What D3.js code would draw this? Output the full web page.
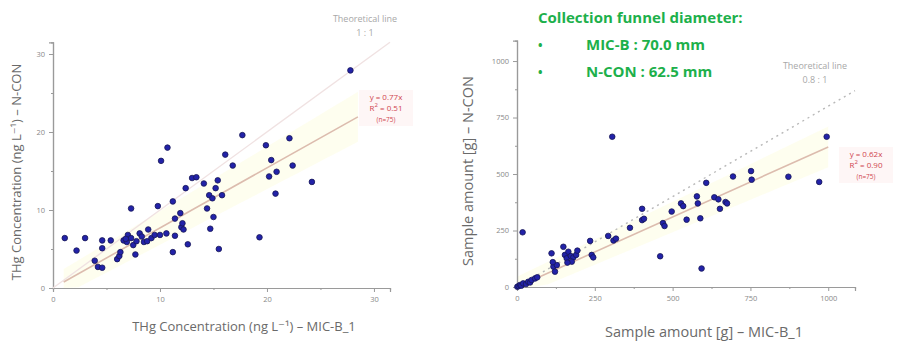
<!DOCTYPE html>
<html>
<head>
<meta charset="utf-8">
<script src="https://cdn.jsdelivr.net/npm/d3@7"></script>
<style>
  html, body { margin: 0; padding: 0; background: #fff; }
  svg { display: block; }
</style>
</head>
<body>
<svg id="chart" width="897" height="343"></svg>
<script>
// THg concentration, ng/L: MIC-B_1 (x) vs N-CON (y)
const thgMicB = [1.1,2.2,3.0,3.9,4.2,4.6,4.6,4.6,5.4,6.0,6.2,6.3,6.6,6.9,7.0,7.3,7.3,7.5,7.7,8.1,8.5,8.8,8.9,9.2,9.5,9.8,10.6,11.2,11.2,11.4,11.4,11.9,12.0,12.2,12.4,12.6,13.0,13.4,14.1,14.4,14.6,14.7,14.9,15.0,15.2,15.4,15.5,15.8,19.3,20.2,20.8,20.9,24.2,27.8,17.7,22.1,19.9,10.7,10.1,16.1,16.8,20.4,22.4,6.8,7.8,8.3,10.0,12.1];
const thgNCon = [6.4,4.8,6.4,3.5,2.7,2.6,6.1,5.1,6.1,3.7,4.1,4.6,6.1,5.9,6.8,6.4,10.2,5.5,4.3,7.0,5.9,6.0,7.5,6.4,6.8,10.5,7.0,11.1,4.6,8.9,6.7,9.6,7.8,7.5,12.8,5.6,14.1,14.2,13.4,10.2,11.9,7.6,11.5,9.1,12.8,13.8,5.0,11.9,6.5,14.3,12.1,14.9,13.6,27.9,19.6,19.2,18.3,18.0,16.3,17.1,15.7,16.4,15.7,6.3,6.0,6.6,6.8,8.3];

// Sample amount, g: MIC-B_1 (x) vs N-CON (y)
const amtMicB = [1,5,10,14,20,29,36,42,47,58,65,18,111,117,122,128,115,149,154,160,165,173,181,190,194,176,162,235,240,245,293,310,318,363,402,402,408,460,469,474,497,527,534,545,578,581,589,593,608,634,647,652,670,675,694,752,754,872,971,306,995];
const amtNCon = [1,4,9,6,16,13,23,20,31,38,43,242,149,90,68,97,110,178,142,127,156,137,131,142,161,112,108,204,142,131,226,206,214,262,346,296,302,136,283,270,334,370,358,298,401,370,304,82,461,397,388,346,376,370,489,513,475,488,465,665,665];

// Axis ticks
const thgTicks = [0, 10, 20, 30];
const thgMinor = [5, 15, 25];
const amtTicks = [0, 250, 500, 750, 1000];
const amtMinor = [125, 375, 625, 875];

// Fitted slopes and theoretical ratios
const thgSlope = 0.77, thgR2 = "0.51";
const amtSlope = 0.62, amtR2 = "0.90";
const thgTheory = 1.0, amtTheory = 0.8;
const sampleCount = 75;

const svg = d3.select("#chart");
const FONT = "'Open Sans', 'DejaVu Sans', sans-serif";
const AXIS = "#9a9a9a";
const LABEL = "#6a6a6a";

function panel(cfg) {
  const g = svg.append("g");
  const x = d3.scaleLinear().domain(cfg.xDomain).range(cfg.xRange);
  const y = d3.scaleLinear().domain(cfg.yDomain).range(cfg.yRange);

  // faint yellow band along the fit
  const band = cfg.bandHalf;
  const xs = d3.range(cfg.fitFrom, cfg.fitTo + 1e-9, (cfg.fitTo - cfg.fitFrom) / 20);
  const area = d3.area()
    .x(d => x(d))
    .y0(d => y(Math.max(0, cfg.slope * d - band * (1 + d / cfg.fitTo))))
    .y1(d => y(cfg.slope * d + band * (1 + d / cfg.fitTo)));
  g.append("path").datum(xs).attr("d", area)
    .attr("fill", "#fcfcdc").attr("opacity", 0.45);

  // axes
  const xAxis = g.append("g").attr("transform", `translate(0,${cfg.yRange[0]})`)
    .call(d3.axisBottom(x).tickValues(cfg.xTicks).tickSize(4).tickPadding(5).tickFormat(d3.format("d")));
  const xMinor = g.append("g").attr("transform", `translate(0,${cfg.yRange[0]})`)
    .call(d3.axisBottom(x).tickValues(cfg.xMinor).tickSize(2).tickFormat(""));
  const yAxis = g.append("g").attr("transform", `translate(${cfg.xRange[0]},0)`)
    .call(d3.axisLeft(y).tickValues(cfg.yTicks).tickSize(4).tickPadding(4).tickFormat(d3.format("d")));
  const yMinor = g.append("g").attr("transform", `translate(${cfg.xRange[0]},0)`)
    .call(d3.axisLeft(y).tickValues(cfg.yMinor).tickSize(2).tickFormat(""));
  [xAxis, xMinor, yAxis, yMinor].forEach(a => {
    a.selectAll("path.domain").attr("stroke", AXIS).attr("stroke-width", 1.2);
    a.selectAll(".tick line").attr("stroke", AXIS);
    a.selectAll(".tick text").attr("fill", "#888").attr("font-size", 7.5).attr("font-family", FONT);
  });

  // theoretical line
  const tl = g.append("line")
    .attr("x1", x(0)).attr("y1", y(0))
    .attr("x2", x(cfg.theoryTo)).attr("y2", y(cfg.theory * cfg.theoryTo))
    .attr("stroke", cfg.theoryColor).attr("stroke-width", 1.4);
  if (cfg.theoryDash) tl.attr("stroke-dasharray", cfg.theoryDash);

  // regression line
  g.append("line")
    .attr("x1", x(cfg.fitFrom)).attr("y1", y(cfg.slope * cfg.fitFrom))
    .attr("x2", x(cfg.fitTo)).attr("y2", y(cfg.slope * cfg.fitTo))
    .attr("stroke", "#dcbcae").attr("stroke-width", 1.6);

  // points
  g.append("g").selectAll("circle")
    .data(cfg.xs.map((v, i) => [v, cfg.ys[i]]))
    .join("circle")
    .attr("cx", d => x(d[0])).attr("cy", d => y(d[1]))
    .attr("r", 2.8)
    .attr("fill", "#2222a8").attr("stroke", "#161655").attr("stroke-width", 0.8);

  // axis titles
  g.append("text")
    .attr("transform", `translate(${cfg.yTitleX},${cfg.yTitleY}) rotate(-90)`)
    .attr("text-anchor", "middle").attr("font-family", FONT)
    .attr("font-size", cfg.titleSize).attr("fill", LABEL).text(cfg.yTitle);
  g.append("text")
    .attr("x", cfg.xTitleX).attr("y", cfg.xTitleY)
    .attr("text-anchor", "middle").attr("font-family", FONT)
    .attr("font-size", cfg.titleSize).attr("fill", LABEL).text(cfg.xTitle);

  // theoretical line caption
  const cap = g.append("text").attr("text-anchor", "middle")
    .attr("font-family", FONT).attr("font-size", 9).attr("fill", "#a8a8a8");
  cap.append("tspan").attr("x", cfg.capX).attr("y", cfg.capY).text("Theoretical line");
  cap.append("tspan").attr("x", cfg.capX).attr("y", cfg.capY + 14).text(cfg.capRatio);

  // fit caption
  g.append("rect").attr("x", cfg.fitCapX - 27).attr("y", cfg.fitCapY - 10)
    .attr("width", 54).attr("height", 36).attr("fill", "#fef6f6");
  const fc = g.append("text").attr("text-anchor", "middle")
    .attr("font-family", FONT).attr("font-size", 8).attr("fill", "#d0454f");
  fc.append("tspan").attr("x", cfg.fitCapX).attr("y", cfg.fitCapY).text(`y = ${cfg.slope.toFixed(2)}x`);
  const r = fc.append("tspan").attr("x", cfg.fitCapX).attr("y", cfg.fitCapY + 11).text("R");
  r.append("tspan").attr("baseline-shift", "super").attr("font-size", 6).text("2");
  fc.append("tspan").attr("dx", 0).text(` = ${cfg.r2}`);
  fc.append("tspan").attr("x", cfg.fitCapX).attr("y", cfg.fitCapY + 22)
    .attr("font-size", 6.5).text(`(n=${sampleCount})`);
}

panel({
  xs: thgMicB, ys: thgNCon,
  xDomain: [0, 31.5], xRange: [53, 390],
  yDomain: [0, 31.5], yRange: [288, 42.3],
  xTicks: thgTicks, xMinor: thgMinor, yTicks: thgTicks, yMinor: thgMinor,
  slope: thgSlope, r2: thgR2, fitFrom: 1.0, fitTo: 28.5, bandHalf: 1.6,
  theory: thgTheory, theoryTo: 31.5, theoryColor: "#f0e2e2", theoryDash: null,
  titleSize: 13,
  yTitle: "THg Concentration (ng L\u207B\u00B9) \u2013 N-CON", yTitleX: 21, yTitleY: 172,
  xTitle: "THg Concentration (ng L\u207B\u00B9) \u2013 MIC-B_1", xTitleX: 244, xTitleY: 331,
  capX: 365, capY: 22, capRatio: "1 : 1",
  fitCapX: 386, fitCapY: 100
});

panel({
  xs: amtMicB, ys: amtNCon,
  xDomain: [0, 1086], xRange: [517, 855],
  yDomain: [0, 1090], yRange: [287, 40.7],
  xTicks: amtTicks, xMinor: amtMinor, yTicks: amtTicks, yMinor: amtMinor,
  slope: amtSlope, r2: amtR2, fitFrom: 0, fitTo: 1000, bandHalf: 45,
  theory: amtTheory, theoryTo: 1086, theoryColor: "#b8b8b8", theoryDash: "2,4",
  titleSize: 14.5,
  yTitle: "Sample amount [g] \u2013 N-CON", yTitleX: 473, yTitleY: 171,
  xTitle: "Sample amount [g] \u2013 MIC-B_1", xTitleX: 704, xTitleY: 337,
  capX: 815, capY: 69, capRatio: "0.8 : 1",
  fitCapX: 866, fitCapY: 157
});

// funnel diameter note
const GREEN = "#1db04b";
const note = svg.append("g").attr("font-family", "'Open Sans', sans-serif")
  .attr("font-weight", "bold").attr("fill", GREEN).attr("font-size", 15);
note.append("text").attr("x", 538).attr("y", 23).text("Collection funnel diameter:");
note.append("text").attr("x", 538).attr("y", 50).attr("font-size", 12).text("\u2022");
note.append("text").attr("x", 586).attr("y", 50).text("MIC-B : 70.0 mm");
note.append("text").attr("x", 538).attr("y", 77).attr("font-size", 12).text("\u2022");
note.append("text").attr("x", 586).attr("y", 77).text("N-CON : 62.5 mm");
</script>
</body>
</html>
